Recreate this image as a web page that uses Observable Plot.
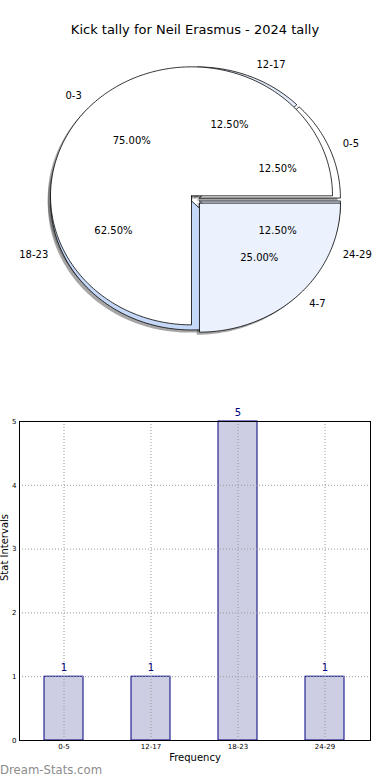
<!DOCTYPE html>
<html><head><meta charset="utf-8">
<script src="https://cdn.jsdelivr.net/npm/d3@7"></script>
<script src="https://cdn.jsdelivr.net/npm/@observablehq/plot@0.6"></script>
<style>
body{margin:0;background:#fff;font-family:"DejaVu Sans",sans-serif;}
#wrap{position:relative;width:390px;height:780px;overflow:hidden;background:#fff;}
#title{position:absolute;left:0;top:20px;width:390px;height:20px;line-height:20px;text-align:center;font-size:13px;color:#000;}
#pie{position:absolute;left:0;top:50px;}
#bar{position:absolute;left:0;top:380px;}
#mark{position:absolute;left:0;top:762px;font-size:11.7px;color:#8c8c8c;line-height:16px;white-space:nowrap;}
svg{display:block;}
</style></head>
<body><div id="wrap"><div id="title">Kick tally for Neil Erasmus - 2024 tally</div><div id="pie"></div><div id="bar"></div><div id="mark">Dream-Stats.com</div></div>
<script>
// ---- data ----
const pieALabels = ["0-3", "4-7"];
const pieAValues = [6, 2];
const pieBLabels = ["0-5", "12-17", "18-23", "24-29"];
const pieBValues = [1, 1, 5, 1];
const barCategories = ["0-5", "12-17", "18-23", "24-29"];
const barValues = [1, 1, 5, 1];
const yTicks = [0, 1, 2, 3, 4, 5];

// ---- styles ----
const pieAColors = ["#ffffff", "#ebf1fd"];
const pieBColors = ["#ffffff", "#e4ecfb", "#c6d8f7", "#dae5f9"];
const pieAExplode = 0.04, pieBExplode = 0.03;
const shadowOffset = [-0.02, -0.02];

function buildPie(labels, values, colors, explode, pid) {
  const total = d3.sum(values);
  const arcs = d3.pie().sort(null).startAngle(Math.PI / 2).endAngle(Math.PI / 2 - 2 * Math.PI)(values);
  return arcs.map((a, i) => {
    const t0 = Math.PI / 2 - a.startAngle, t1 = Math.PI / 2 - a.endAngle;
    const mid = (t0 + t1) / 2;
    const cx = explode * Math.cos(mid), cy = explode * Math.sin(mid);
    const n = Math.max(2, Math.ceil(Math.abs(t1 - t0) / (Math.PI / 180)));
    const pts = [{x: cx, y: cy}];
    for (let k = 0; k <= n; k++) {
      const t = t0 + (t1 - t0) * k / n;
      pts.push({x: cx + Math.cos(t), y: cy + Math.sin(t)});
    }
    pts.push({x: cx, y: cy});
    return {
      id: pid + i, label: labels[i], color: colors[i], pts,
      lx: cx + 1.1 * Math.cos(mid), ly: cy + 1.1 * Math.sin(mid),
      px: cx + 0.6 * Math.cos(mid), py: cy + 0.6 * Math.sin(mid),
      pct: (values[i] / total * 100).toFixed(2) + "%",
      right: Math.cos(mid) >= 0
    };
  });
}

const sliceA = buildPie(pieALabels, pieAValues, pieAColors, pieAExplode, "A");
const sliceB = buildPie(pieBLabels, pieBValues, pieBColors, pieBExplode, "B");
const allSlices = [...sliceB, ...sliceA];

const shadowMarks = allSlices.map(s => Plot.line(
  s.pts.map(p => ({x: p.x + shadowOffset[0], y: p.y + shadowOffset[1]})),
  {x: "x", y: "y", fill: "#4d4d4d", fillOpacity: 0.5, stroke: "none", curve: "linear"}
));
const sliceMarks = allSlices.map(s => Plot.line(
  s.pts, {x: "x", y: "y", fill: s.color, stroke: "#000", strokeWidth: 0.8, curve: "linear", strokeLinejoin: "miter"}
));

const pie = Plot.plot({
  width: 390, height: 330, margin: 0,
  x: {domain: [-195 / 141, 195 / 141], axis: null},
  y: {domain: [(149 - 330) / 129, 149 / 129], axis: null},
  style: {fontFamily: "DejaVu Sans", fontSize: "10px", background: "white", color: "black", overflow: "visible"},
  marks: [
    ...shadowMarks,
    ...sliceMarks,
    Plot.text(allSlices.filter(s => s.right), {x: "lx", y: "ly", text: "label", textAnchor: "start", fontSize: 10, fill: "#000"}),
    Plot.text(allSlices.filter(s => !s.right), {x: "lx", y: "ly", text: "label", textAnchor: "end", fontSize: 10, fill: "#000"}),
    Plot.text(allSlices, {x: "px", y: "py", text: "pct", textAnchor: "middle", fontSize: 10, fill: "#000"})
  ]
});
document.getElementById("pie").appendChild(pie);

const barData = barCategories.map((c, i) => ({cat: c, value: barValues[i]}));
const gridStyle = {stroke: "#9a9a9a", strokeOpacity: 1, strokeWidth: 1, strokeDasharray: "1,2"};

const bar = Plot.plot({
  width: 390, height: 400, marginTop: 41, marginBottom: 40, marginLeft: 19, marginRight: 20,
  style: {fontFamily: "DejaVu Sans", fontSize: "7px", background: "white", color: "black", overflow: "visible"},
  x: {domain: barCategories, paddingInner: 0.55, paddingOuter: 0.275, label: null, tickSize: 0, tickPadding: 4},
  y: {domain: [0, 5], ticks: yTicks, label: null, tickSize: 0, tickPadding: 3, tickFormat: d => String(d)},
  marks: [
    Plot.barY(barData, {x: "cat", y: "value", fill: "#cdcde4", stroke: "#000080", strokeWidth: 1}),
    Plot.gridX(barCategories, {x: d => d, ...gridStyle}),
    Plot.gridY(yTicks, {y: d => d, ...gridStyle}),
    Plot.frame({stroke: "#000", strokeWidth: 1}),
    Plot.text(barData, {x: "cat", y: "value", text: d => String(d.value), dy: -9, fill: "#000080", fontSize: 10}),
    Plot.text(["Frequency"], {frameAnchor: "bottom", dy: 20, fontSize: 10, fill: "#000"}),
    Plot.text(["Stat Intervals"], {frameAnchor: "left", rotate: -90, dx: -15, fontSize: 10, fill: "#000"})
  ]
});
document.getElementById("bar").appendChild(bar);
</script>
</body></html>
